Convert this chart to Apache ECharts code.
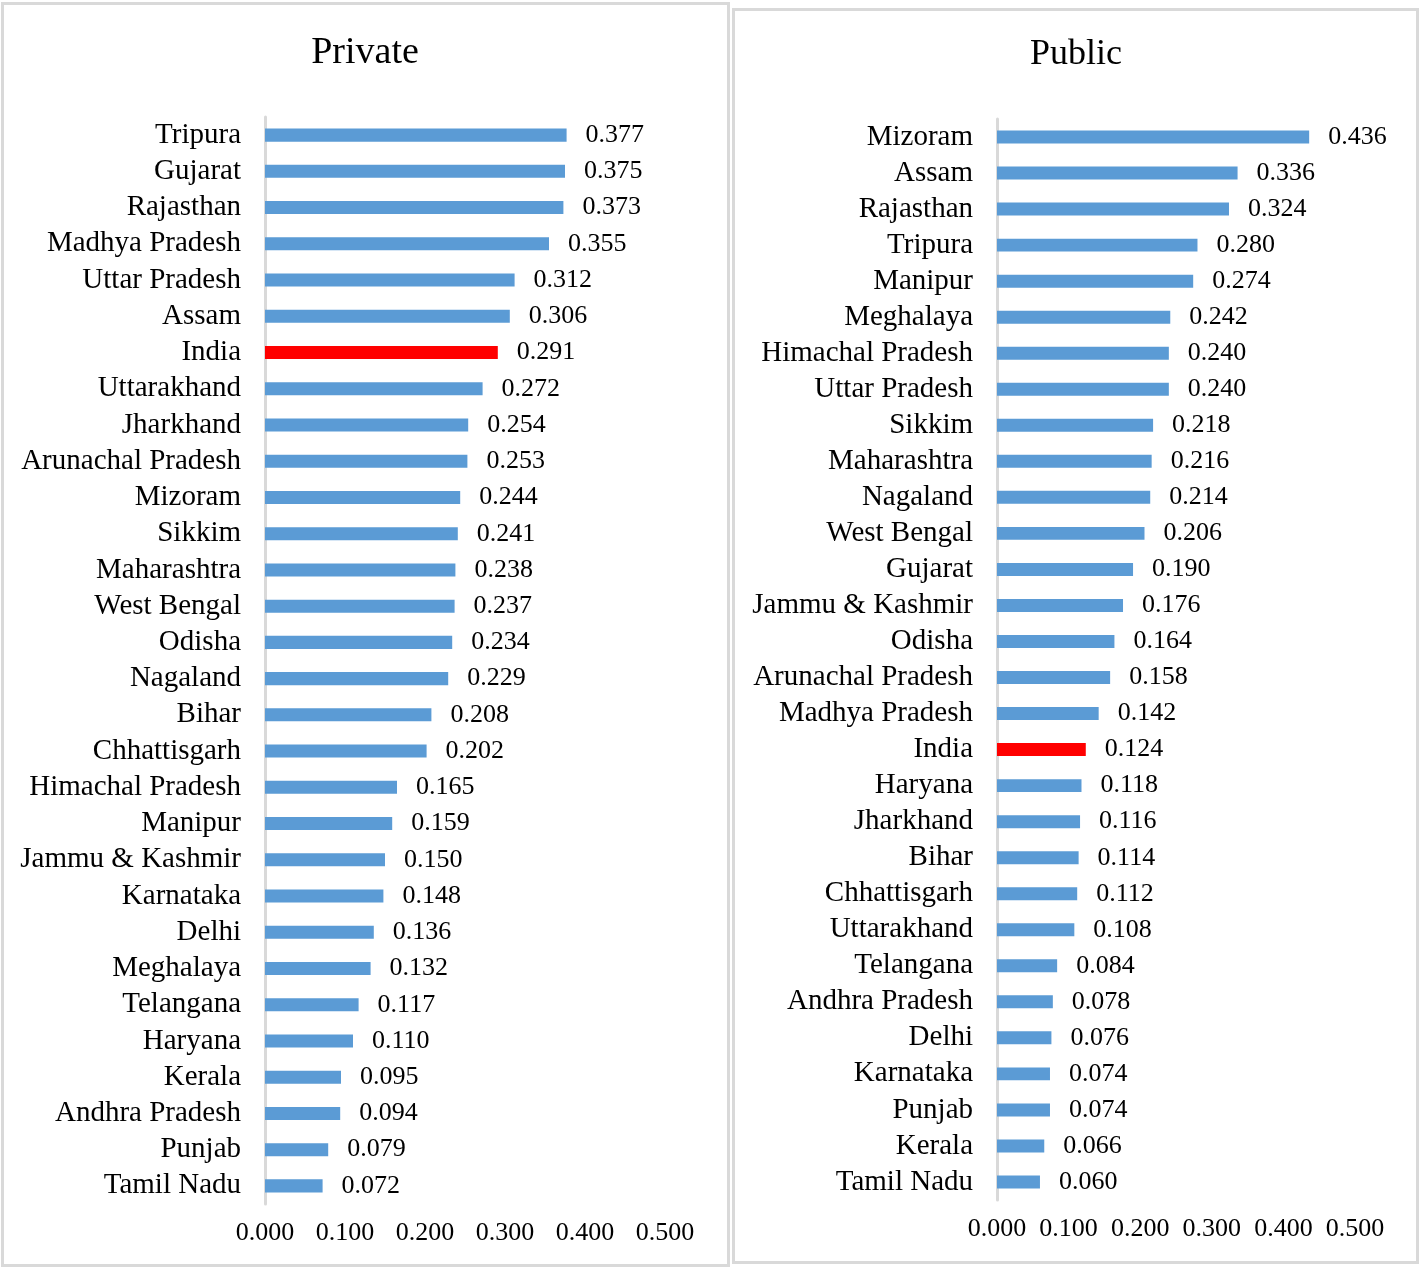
<!DOCTYPE html>
<html>
<head>
<meta charset="utf-8">
<script src="https://cdn.jsdelivr.net/npm/echarts@6/dist/echarts.min.js"></script>
<style>
html,body{margin:0;padding:0;background:#fff;}
#c{width:1424px;height:1268px;}
</style>
</head>
<body>
<div id="c"></div>
<script>
const privateStates = ["Tripura","Gujarat","Rajasthan","Madhya Pradesh","Uttar Pradesh","Assam","India","Uttarakhand","Jharkhand","Arunachal Pradesh","Mizoram","Sikkim","Maharashtra","West Bengal","Odisha","Nagaland","Bihar","Chhattisgarh","Himachal Pradesh","Manipur","Jammu & Kashmir","Karnataka","Delhi","Meghalaya","Telangana","Haryana","Kerala","Andhra Pradesh","Punjab","Tamil Nadu"];
const privateValues = [0.377,0.375,0.373,0.355,0.312,0.306,0.291,0.272,0.254,0.253,0.244,0.241,0.238,0.237,0.234,0.229,0.208,0.202,0.165,0.159,0.150,0.148,0.136,0.132,0.117,0.110,0.095,0.094,0.079,0.072];
const publicStates = ["Mizoram","Assam","Rajasthan","Tripura","Manipur","Meghalaya","Himachal Pradesh","Uttar Pradesh","Sikkim","Maharashtra","Nagaland","West Bengal","Gujarat","Jammu & Kashmir","Odisha","Arunachal Pradesh","Madhya Pradesh","India","Haryana","Jharkhand","Bihar","Chhattisgarh","Uttarakhand","Telangana","Andhra Pradesh","Delhi","Karnataka","Punjab","Kerala","Tamil Nadu"];
const publicValues = [0.436,0.336,0.324,0.280,0.274,0.242,0.240,0.240,0.218,0.216,0.214,0.206,0.190,0.176,0.164,0.158,0.142,0.124,0.118,0.116,0.114,0.112,0.108,0.084,0.078,0.076,0.074,0.074,0.066,0.060];
const axisTicks = [0, 0.1, 0.2, 0.3, 0.4, 0.5];
const titles = ["Private", "Public"];

const FONT = '"Liberation Serif","Times New Roman",serif';
const BLUE = '#5b9bd5';
const RED = '#ff0000';

function barData(names, vals) {
  return vals.map((v, i) => ({
    value: v,
    itemStyle: { color: names[i] === 'India' ? RED : BLUE }
  }));
}

function xAxisFor(gi, margin) {
  return {
    gridIndex: gi, type: 'value', min: axisTicks[0], max: axisTicks[axisTicks.length - 1], interval: 0.1,
    splitLine: { show: false }, axisLine: { show: false }, axisTick: { show: false },
    axisLabel: { fontFamily: FONT, fontSize: 26, color: '#000', margin: margin,
      formatter: v => v.toFixed(3) }
  };
}
function yAxisFor(gi, names) {
  return {
    gridIndex: gi, type: 'category', data: names, inverse: true,
    axisLine: { show: true, lineStyle: { color: '#d9d9d9', width: 3 } },
    axisTick: { show: false },
    axisLabel: { interval: 0, fontFamily: FONT, fontSize: 29, color: '#000', margin: 24 }
  };
}
function seriesFor(gi, names, vals) {
  return {
    type: 'bar', xAxisIndex: gi, yAxisIndex: gi,
    data: barData(names, vals), barWidth: '36%',
    label: { show: true, position: 'right', distance: 19, fontFamily: FONT, fontSize: 26, color: '#000',
      formatter: p => p.value.toFixed(3) }
  };
}

const chart = echarts.init(document.getElementById('c'), null, { renderer: 'canvas' });
chart.setOption({
  backgroundColor: '#fff',
  animation: false,
  grid: [
    { left: 265, top: 117, width: 400, height: 1087 },
    { left: 997, top: 119, width: 358, height: 1081 }
  ],
  xAxis: [xAxisFor(0, 16), xAxisFor(1, 16)],
  yAxis: [yAxisFor(0, privateStates), yAxisFor(1, publicStates)],
  series: [seriesFor(0, privateStates, privateValues), seriesFor(1, publicStates, publicValues)],
  graphic: [
    { type: 'rect', z: -1, shape: { x: 2.5, y: 3.5, width: 726, height: 1262 },
      style: { fill: 'none', stroke: '#d9d9d9', lineWidth: 3 } },
    { type: 'rect', z: -1, shape: { x: 733.5, y: 9.5, width: 684, height: 1253 },
      style: { fill: 'none', stroke: '#d9d9d9', lineWidth: 3 } },
    { type: 'text', style: { x: 365, y: 53, text: titles[0], font: '38px ' + FONT, fill: '#000', textAlign: 'center', textVerticalAlign: 'middle' } },
    { type: 'text', style: { x: 1076, y: 55, text: titles[1], font: '36px ' + FONT, fill: '#000', textAlign: 'center', textVerticalAlign: 'middle' } }
  ]
});
</script>
</body>
</html>
